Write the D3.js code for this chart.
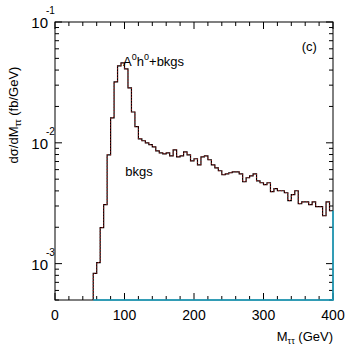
<!DOCTYPE html>
<html>
<head>
<meta charset="utf-8">
<script src="https://cdn.jsdelivr.net/npm/d3@7"></script>
<style>
  body { margin: 0; background: #fff; }
  svg { font-family: 'Liberation Sans', Arial, sans-serif; }
</style>
</head>
<body>
<div id="chart"></div>
<script>
// bin left edges (GeV), 5 GeV wide
const binEdges = [55, 60, 65, 70, 75, 80, 85, 90, 95, 100, 105, 110, 115, 120, 125, 130, 135, 140,
  145, 150, 155, 160, 165, 170, 175, 180, 185, 190, 195, 200, 205, 210, 215, 220, 225, 230, 235,
  240, 245, 250, 255, 260, 265, 270, 275, 280, 285, 290, 295, 300, 305, 310, 315, 320, 325, 330,
  335, 340, 345, 350, 355, 360, 365, 370, 375, 380, 385, 390, 395];

// dsigma/dM (fb/GeV)
const signalPlusBkg = [0.00083, 0.00102, 0.00199, 0.00308, 0.00796, 0.0161, 0.0319,
  0.0433, 0.0458, 0.0409, 0.0285, 0.0180, 0.0136, 0.0108, 0.0104, 0.0100, 0.00965, 0.00927,
  0.00859, 0.00826, 0.00811, 0.00826, 0.00781, 0.00875, 0.00766, 0.00781, 0.00843, 0.00796,
  0.00710, 0.00738, 0.00658, 0.00766, 0.00781, 0.00724, 0.00658, 0.00621, 0.00587,
  0.00544, 0.00554, 0.00565, 0.00575, 0.00575, 0.00554, 0.00476, 0.00514, 0.00533, 0.00554,
  0.00485, 0.00467, 0.00450, 0.00467, 0.00394, 0.00417, 0.00401, 0.00401, 0.00386,
  0.00332, 0.00372, 0.00401, 0.00313, 0.00325, 0.00325, 0.00308, 0.00325, 0.00296,
  0.00296, 0.00249, 0.00325, 0.00274];

const xTicks = [0, 100, 200, 300, 400];
const yDecades = [-1, -2, -3];

const size = { width: 347, height: 347 };
const margin = { top: 22, right: 14, bottom: 47, left: 55 };

const svg = d3.select('#chart')
  .append('svg')
  .attr('width', size.width)
  .attr('height', size.height);

const x = d3.scaleLinear()
  .domain([0, 400])
  .range([margin.left, size.width - margin.right]);

const y = d3.scaleLog()
  .domain([5e-4, 0.1])
  .range([size.height - margin.bottom, margin.top]);

const x0 = x.range()[0], x1 = x.range()[1];
const yb = y.range()[0], yt = y.range()[1];

// ticks
const majorLen = 7, minorLen = 4;
const minorX = d3.range(0, 401, 20);
const ticks = svg.append('g').attr('stroke', '#000').attr('stroke-width', 1);

minorX.forEach((v) => {
  const len = v % 100 === 0 ? majorLen : minorLen;
  ticks.append('line').attr('x1', x(v)).attr('x2', x(v)).attr('y1', yb).attr('y2', yb - len);
  ticks.append('line').attr('x1', x(v)).attr('x2', x(v)).attr('y1', yt).attr('y2', yt + len);
});

const yMinor = [];
[-4, -3, -2].forEach((e) => {
  for (let m = 1; m < 10; m++) {
    const v = m * Math.pow(10, e);
    if (v >= 5e-4 && v <= 0.1) yMinor.push({ v, major: m === 1 });
  }
});
yMinor.push({ v: 0.1, major: true });

yMinor.forEach((t) => {
  const len = t.major ? majorLen : minorLen;
  ticks.append('line').attr('x1', x0).attr('x2', x0 + len).attr('y1', y(t.v)).attr('y2', y(t.v));
  ticks.append('line').attr('x1', x1).attr('x2', x1 - len).attr('y1', y(t.v)).attr('y2', y(t.v));
});

// histogram
const pts = binEdges.map((e, i) => [e, signalPlusBkg[i]]);
pts.push([400, signalPlusBkg[signalPlusBkg.length - 1]]);

const line = d3.line()
  .x((d) => x(d[0]))
  .y((d) => y(d[1]))
  .curve(d3.curveStepAfter);

const path = `M${x(binEdges[0])},${yb}L` + line(pts).slice(1);

svg.append('path')
  .attr('d', path)
  .attr('fill', 'none')
  .attr('stroke', '#000')
  .attr('stroke-width', 1.2);

svg.append('path')
  .attr('d', path)
  .attr('fill', 'none')
  .attr('stroke', '#d02020')
  .attr('stroke-width', 0.9)
  .style('stroke-dasharray', '1, 2');

// frame
svg.append('rect')
  .attr('x', x0).attr('y', yt)
  .attr('width', x1 - x0).attr('height', yb - yt)
  .attr('fill', 'none')
  .attr('stroke', '#000')
  .attr('stroke-width', 1);

// cyan baseline
svg.append('path')
  .attr('d', `M${x(binEdges[0])},${yb}L${x1},${yb}L${x1},${y(signalPlusBkg[signalPlusBkg.length - 1])}`)
  .attr('fill', 'none')
  .attr('stroke', '#1aa6c8')
  .attr('stroke-width', 1.5);

// x tick labels
svg.append('g')
  .selectAll('text')
  .data(xTicks)
  .join('text')
  .attr('x', (d) => x(d))
  .attr('y', yb + 20)
  .attr('text-anchor', 'middle')
  .attr('font-size', 14)
  .text((d) => d);

// y tick labels 10^n
const yl = svg.append('g').attr('font-size', 15);
yDecades.forEach((e) => {
  const yy = y(Math.pow(10, e));
  yl.append('text').attr('x', x0 - 7).attr('y', yy + 6).attr('text-anchor', 'end').text('10');
  yl.append('text').attr('x', x0 - 9).attr('y', yy - 8).attr('font-size', 10)
    .attr('text-anchor', 'start').text(e);
});

// axis titles
const xt = svg.append('text')
  .attr('x', x1)
  .attr('y', 341)
  .attr('text-anchor', 'end')
  .attr('font-size', 13);
xt.append('tspan').text('M');
xt.append('tspan').attr('font-size', 9).attr('dy', 3).text('ττ');
xt.append('tspan').attr('dy', -3).text(' (GeV)');

const yt2 = svg.append('text')
  .attr('transform', `translate(18, ${(yt + yb) / 2 - 46}) rotate(-90)`)
  .attr('text-anchor', 'middle')
  .attr('font-size', 13);
yt2.append('tspan').text('dσ/dM');
yt2.append('tspan').attr('font-size', 9).attr('dy', 3).text('ττ');
yt2.append('tspan').attr('dy', -3).text(' (fb/GeV)');

// labels
const sig = svg.append('text')
  .attr('x', x(98))
  .attr('y', 66)
  .attr('font-size', 13);
sig.append('tspan').text('A');
sig.append('tspan').attr('font-size', 9).attr('dy', -6).text('0');
sig.append('tspan').attr('dy', 6).text('h');
sig.append('tspan').attr('font-size', 9).attr('dy', -6).text('0');
sig.append('tspan').attr('dy', 6).text('+bkgs');

svg.append('text')
  .attr('x', x(101))
  .attr('y', 176)
  .attr('font-size', 13)
  .text('bkgs');

svg.append('text')
  .attr('x', x(355))
  .attr('y', 51)
  .attr('font-size', 13)
  .text('(c)');
</script>
</body>
</html>
